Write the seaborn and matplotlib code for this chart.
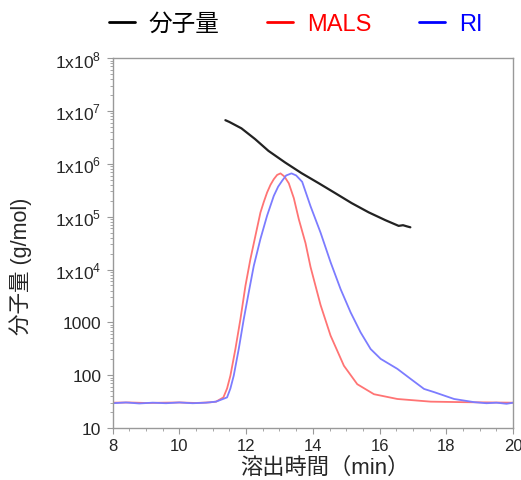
import numpy as np
import pandas as pd
import seaborn as sns
import matplotlib.pyplot as plt
from matplotlib.lines import Line2D
from matplotlib.ticker import FixedLocator, FixedFormatter, LogLocator, MultipleLocator

# 分子量 (black)
mw_time = [11.38, 11.50, 11.86, 12.27, 12.67, 13.17, 13.66, 14.17, 14.67, 15.16,
           15.67, 16.17, 16.57, 16.70, 16.82, 16.92]
mw_value = [6.7e6, 6.2e6, 4.7e6, 2.94e6, 1.76e6, 1.06e6, 6.67e5, 4.32e5, 2.79e5, 1.81e5,
            1.21e5, 8.6e4, 6.7e4, 6.9e4, 6.55e4, 6.3e4]

# MALS (red)
mals_time = [8.0, 8.5, 9.0, 9.5, 10.0, 10.5, 10.93, 11.1, 11.32, 11.43, 11.53, 11.68,
             11.83, 11.98, 12.13, 12.28, 12.43, 12.53, 12.63, 12.73, 12.83, 12.93, 13.03,
             13.15, 13.28, 13.43, 13.58, 13.78, 13.93, 14.23, 14.53, 14.93, 15.33, 15.83,
             16.53, 17.53, 18.5, 20.0]
mals_value = [30.2, 30.5, 29.8, 30.2, 30.5, 29.8, 30.7, 31.6, 38, 56, 98, 313,
              1148, 4898, 1.58e4, 4.37e4, 1.2e5, 1.9e5, 2.88e5, 4.0e5, 5.13e5, 6.17e5, 6.6e5,
              5.75e5, 4.27e5, 2.24e5, 8.9e4, 3.16e4, 1.12e4, 2138, 562, 151, 67.6, 43.7,
              35.5, 31.6, 30.9, 30.2]

# RI (blue)
ri_time = [8.0, 8.4, 8.8, 9.2, 9.6, 10.0, 10.4, 10.8, 11.1, 11.43, 11.53, 11.63,
           11.78, 11.93, 12.08, 12.23, 12.43, 12.63, 12.83, 12.96, 13.08, 13.2, 13.36,
           13.5, 13.68, 13.93, 14.23, 14.53, 14.83, 15.13, 15.43, 15.73, 16.03,
           16.53, 16.93, 17.33, 17.63, 18.23, 18.83, 19.2, 19.5, 19.8, 20.0]
ri_value = [29.5, 30.5, 29.2, 30.2, 29.5, 30.5, 29.5, 30.2, 31.6, 38, 56, 98,
            313, 1148, 3715, 1.17e4, 3.8e4, 1.05e5, 2.48e5, 3.7e5, 4.79e5, 6.03e5, 6.6e5,
            6.03e5, 4.57e5, 1.58e5, 5.0e4, 1.38e4, 4266, 1549, 646, 313, 204,
            132, 85, 55, 47.9, 35.5, 30.9, 29.5, 30.2, 28.8, 30.2]

sns.set_style("ticks")
plt.rcParams['font.family'] = ['Liberation Sans', 'Noto Sans CJK JP']
plt.rcParams['mathtext.fontset'] = 'custom'
plt.rcParams['mathtext.rm'] = 'Liberation Sans'

fig = plt.figure(figsize=(5.21, 4.81), dpi=100)
ax = fig.add_axes([0.216, 0.108, 0.769, 0.769])

df_mals = pd.DataFrame({'time': mals_time, 'value': mals_value})
df_ri = pd.DataFrame({'time': ri_time, 'value': ri_value})
df_mw = pd.DataFrame({'time': mw_time, 'value': mw_value})

sns.lineplot(data=df_mals, x='time', y='value', ax=ax, color='#ff7474', lw=1.3)
sns.lineplot(data=df_ri, x='time', y='value', ax=ax, color='#7c7cff', lw=1.3)
sns.lineplot(data=df_mw, x='time', y='value', ax=ax, color='#222222', lw=1.6)

ax.set_yscale('log')
ax.set_xlim(8, 20)
ax.set_ylim(10, 1e8)

yticks = [10, 100, 1000, 1e4, 1e5, 1e6, 1e7, 1e8]
ylabels = ['10', '100', '1000', r'1x10$^{\mathregular{4}}$', r'1x10$^{\mathregular{5}}$',
           r'1x10$^{\mathregular{6}}$', r'1x10$^{\mathregular{7}}$', r'1x10$^{\mathregular{8}}$']
ax.yaxis.set_major_locator(FixedLocator(yticks))
ax.yaxis.set_major_formatter(FixedFormatter(ylabels))
ax.yaxis.set_minor_locator(LogLocator(base=10, subs=np.arange(2, 10), numticks=20))
ax.xaxis.set_major_locator(MultipleLocator(2))
ax.xaxis.set_minor_locator(MultipleLocator(0.5))

for s in ax.spines.values():
    s.set_color('#999999')
    s.set_linewidth(1.0)
ax.tick_params(which='major', direction='out', length=4, color='#999999', labelsize=12.5)
ax.tick_params(axis='y', which='major', pad=4)
ax.tick_params(axis='x', which='major', pad=3, labelsize=12)
ax.tick_params(which='minor', direction='out', length=2.5, color='#999999')

ax.set_xlabel('溶出時間（min）', fontsize=16)
ax.set_ylabel('分子量 (g/mol)', fontsize=15.5)
ax.xaxis.set_label_coords(0.53, -0.078)
ax.yaxis.set_label_coords(-0.2, 0.44)

handles = [Line2D([], [], color='black', lw=2),
           Line2D([], [], color='red', lw=2),
           Line2D([], [], color='blue', lw=2)]
fig.legend(handles, ['分子量', 'MALS', 'RI'], loc='center', bbox_to_anchor=(0.567, 0.948),
           ncol=3, frameon=False, fontsize=17, handlelength=1.1, columnspacing=2.0,
           handletextpad=0.6, labelcolor=['black', 'red', 'blue'])

fig.savefig('out.png', dpi=100)
